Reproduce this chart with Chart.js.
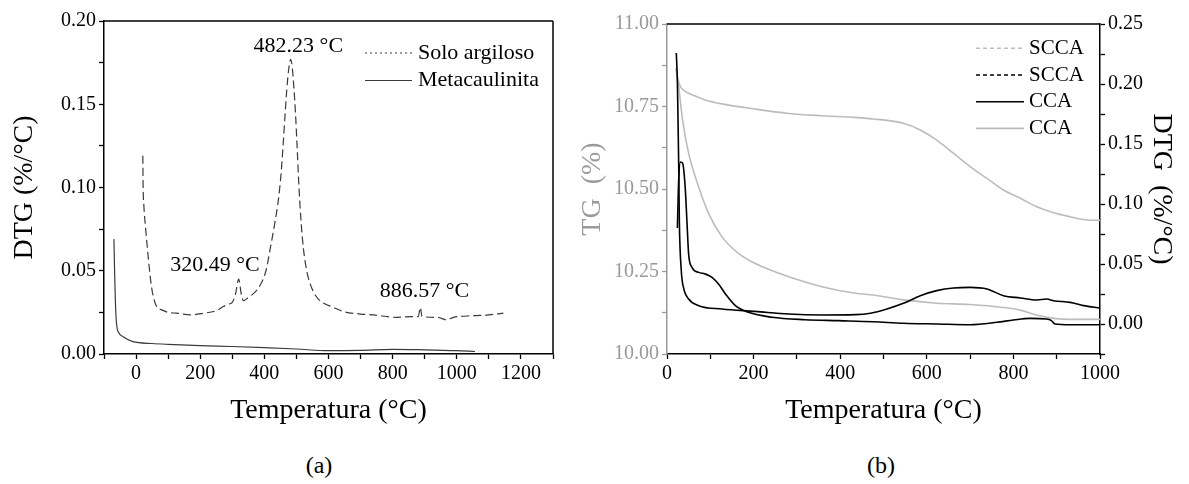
<!DOCTYPE html>
<html>
<head>
<meta charset="utf-8">
<script src="https://cdn.jsdelivr.net/npm/chart.js@4.4.1/dist/chart.umd.min.js"></script>
<style>
  body { margin: 0; background: #fff; }
  #wrap { position: relative; width: 1189px; height: 484px; overflow: hidden; }
  canvas { position: absolute; top: 0; }
  #chartA { left: 0; }
  #chartB { left: 575px; }
  .cap { position: absolute; top: 452px; font: 24px 'Liberation Serif', 'Times New Roman', serif; transform: translateX(-50%); }
</style>
</head>
<body>
<div id="wrap">
  <canvas id="chartA" width="575" height="440"></canvas>
  <canvas id="chartB" width="614" height="440"></canvas>
  <div class="cap" style="left:319px">(a)</div>
  <div class="cap" style="left:881px">(b)</div>
</div>
<script>
// --- (a) DTG: solo argiloso / metacaulinita ---
const soloT = [21, 22, 24, 30, 38, 45, 52, 64, 80, 100, 127, 168, 210, 250, 272, 290, 300, 310, 320, 328,
  335, 350, 370, 386, 405, 418, 432, 444, 452, 459, 465, 470, 476, 482, 487, 492, 497, 502, 508, 515,
  522, 532, 542, 560, 584, 615, 646, 700, 740, 813, 860, 880, 886, 892, 940, 968, 990, 1050, 1100, 1145];
const soloDTG = [0.119, 0.100, 0.090, 0.075, 0.058, 0.045, 0.036, 0.0285, 0.0265, 0.025, 0.0245, 0.0235, 0.0245, 0.026, 0.0285, 0.030, 0.031, 0.036, 0.045, 0.036,
  0.032, 0.034, 0.037, 0.041, 0.050, 0.063, 0.078, 0.093, 0.108, 0.127, 0.145, 0.159, 0.171, 0.177, 0.172, 0.160, 0.145, 0.125, 0.100, 0.078,
  0.063, 0.050, 0.0426, 0.035, 0.0306, 0.028, 0.0255, 0.024, 0.0235, 0.022, 0.0225, 0.0225, 0.028, 0.0225, 0.022, 0.0205, 0.022, 0.023, 0.0235, 0.0245];
const metaT = [-69, -67, -65, -63, -60, -55, -40, -10, 50, 100, 200, 300, 400, 500, 600, 700, 800, 900, 1000, 1057];
const metaDTG = [0.069, 0.050, 0.035, 0.024, 0.0165, 0.013, 0.0104, 0.0074, 0.0063, 0.0058, 0.005, 0.0045, 0.0038, 0.003, 0.002, 0.0022, 0.0028, 0.0025, 0.002, 0.0015];

// --- (b) TG / DTG: SCCA / CCA ---
const tgSccaT = [21, 25, 31, 40, 50, 70, 88, 127, 204, 281, 358, 435, 477, 508, 546, 585, 623, 662, 700, 739, 777, 816, 854, 893, 931, 970, 1000];
const tgScca = [10.866, 10.835, 10.81, 10.798, 10.79, 10.779, 10.77, 10.758, 10.742, 10.729, 10.722, 10.717, 10.712, 10.708, 10.699, 10.679, 10.648, 10.608, 10.568, 10.532, 10.497, 10.472, 10.446, 10.428, 10.416, 10.406, 10.405];
const tgCcaT = [21, 27, 36, 50, 73, 96, 127, 165, 204, 281, 358, 435, 477, 546, 623, 700, 777, 816, 854, 893, 931, 1000];
const tgCca = [10.866, 10.81, 10.709, 10.608, 10.507, 10.426, 10.355, 10.305, 10.274, 10.234, 10.204, 10.184, 10.179, 10.164, 10.154, 10.15, 10.141, 10.133, 10.118, 10.108, 10.105, 10.105];
const dtgSccaT = [21.5, 24, 25.5, 27, 28.5, 33, 38, 50, 73, 127, 204, 281, 358, 435, 470, 508, 546, 585, 623, 662, 700, 739, 777, 816, 854, 877, 893, 931, 962, 1000];
const dtgScca = [0.2258, 0.2014, 0.169, 0.133, 0.086, 0.0444, 0.0305, 0.0208, 0.0153, 0.0125, 0.0105, 0.0083, 0.0075, 0.0078, 0.009, 0.0125, 0.0172, 0.0236, 0.0278, 0.030, 0.0305, 0.0292, 0.0236, 0.0217, 0.020, 0.0208, 0.0194, 0.018, 0.0153, 0.0133];
const dtgCcaT = [24, 27, 31, 36, 42, 46, 50, 58, 73, 88, 104, 119, 135, 158, 188, 242, 319, 396, 477, 546, 623, 700, 762, 800, 838, 877, 888, 896, 931, 1000];
const dtgCca = [0.08, 0.12, 0.135, 0.134, 0.114, 0.086, 0.058, 0.047, 0.043, 0.0417, 0.0389, 0.0333, 0.025, 0.0153, 0.0097, 0.0056, 0.0036, 0.0028, 0.0019, 0.0006, 0.0, -0.0006, 0.0014, 0.0033, 0.0047, 0.0042, 0.0028, 0.0, -0.0006, -0.0006];

// tick labels
const aTempLabels = [0, 200, 400, 600, 800, 1000, 1200];
const aDtgLabels = [0, 0.05, 0.10, 0.15, 0.20];
const bTempLabels = [0, 200, 400, 600, 800, 1000];
const bTgLabels = [10, 10.25, 10.5, 10.75, 11];
const bDtgLabels = [0, 0.05, 0.10, 0.15, 0.20, 0.25];

const SERIF = "'Liberation Serif', 'Times New Roman', serif";
Chart.defaults.font.family = SERIF;
Chart.defaults.color = '#000';

const pts = (xs, ys) => xs.map((x, i) => ({ x, y: ys[i] }));
const labelIf = (labels, digits) => v => {
  const hit = labels.find(l => Math.abs(l - v) < 1e-9);
  return hit === undefined ? '' : hit.toFixed(digits);
};

// box edges not covered by the axes
const framePlugin = {
  id: 'frame',
  afterDraw(chart, args, opts) {
    const { ctx, chartArea: a } = chart;
    ctx.save();
    ctx.strokeStyle = '#000';
    ctx.lineWidth = 1.5;
    ctx.beginPath();
    ctx.moveTo(a.left, a.top); ctx.lineTo(a.right, a.top);
    if (opts.right) { ctx.moveTo(a.right, a.top); ctx.lineTo(a.right, a.bottom); }
    ctx.stroke();
    ctx.restore();
  }
};

// legend inside the plot, top right
const lineLegend = {
  id: 'lineLegend',
  afterDraw(chart, args, opts) {
    const { ctx, chartArea: a } = chart;
    ctx.save();
    ctx.font = opts.font;
    ctx.textBaseline = 'middle';
    opts.items.forEach((it, i) => {
      const ds = chart.data.datasets[it.ds];
      const y = a.top + opts.top + i * opts.gap;
      const x0 = a.right - opts.right;
      ctx.strokeStyle = ds.borderColor;
      ctx.lineWidth = ds.borderWidth;
      ctx.setLineDash(it.dash);
      ctx.beginPath(); ctx.moveTo(x0, y); ctx.lineTo(x0 + opts.len, y); ctx.stroke();
      ctx.setLineDash([]);
      ctx.fillStyle = '#000';
      ctx.fillText(ds.label, x0 + opts.len + opts.space, y);
    });
    ctx.restore();
  }
};

const peakLabels = {
  id: 'peakLabels',
  afterDatasetsDraw(chart, args, opts) {
    const { ctx, scales: { x, y } } = chart;
    ctx.save();
    ctx.font = opts.font;
    ctx.fillStyle = '#000';
    ctx.textAlign = 'center';
    ctx.textBaseline = 'middle';
    opts.items.forEach(p => ctx.fillText(p.text, x.getPixelForValue(p.x), y.getPixelForValue(p.y)));
    ctx.restore();
  }
};

const tickGrid = color => ({ drawOnChartArea: false, drawTicks: true, tickLength: 5, tickColor: color, tickWidth: 1.3 });
const titleFont = { size: 28, family: SERIF, lineHeight: 1.2 };

// --- Chart (a) ---
new Chart(document.getElementById('chartA'), {
  type: 'line',
  data: {
    datasets: [
      { label: 'Solo argiloso', data: pts(soloT, soloDTG), borderColor: '#3a3a3a', borderWidth: 1.2,
        borderDash: [8, 4], pointRadius: 0, cubicInterpolationMode: 'monotone' },
      { label: 'Metacaulinita', data: pts(metaT, metaDTG), borderColor: '#3a3a3a', borderWidth: 1.2,
        pointRadius: 0, cubicInterpolationMode: 'monotone' }
    ]
  },
  options: {
    responsive: false,
    animation: false,
    layout: { padding: { left: 0, right: 22, top: 21, bottom: 0 } },
    scales: {
      x: {
        type: 'linear', min: -100, max: 1300,
        ticks: { stepSize: 100, autoSkip: false, maxRotation: 0, font: { size: 20 }, callback: labelIf(aTempLabels, 0) },
        grid: tickGrid('#000'),
        border: { display: true, color: '#000', width: 1.5 },
        title: { display: true, text: 'Temperatura (°C)', font: titleFont, padding: { bottom: 13 } },
        afterFit: s => { s.height = 86; }
      },
      y: {
        min: 0, max: 0.2,
        ticks: { stepSize: 0.025, autoSkip: false, font: { size: 20 }, callback: labelIf(aDtgLabels, 2) },
        grid: tickGrid('#000'),
        border: { display: true, color: '#000', width: 1.5 },
        title: { display: true, text: 'DTG (%/°C)', font: titleFont, padding: { top: 8 } },
        afterFit: s => { s.width = 104; }
      }
    },
    plugins: {
      legend: { display: false },
      tooltip: { enabled: false },
      frame: { right: true },
      lineLegend: {
        font: '22px ' + SERIF, top: 32, gap: 27.5, right: 188, len: 47, space: 6,
        items: [{ ds: 0, dash: [2, 3] }, { ds: 1, dash: [] }]
      },
      peakLabels: {
        font: '22px ' + SERIF,
        items: [
          { text: '482.23 °C', x: 506, y: 0.185 },
          { text: '320.49 °C', x: 246, y: 0.0532 },
          { text: '886.57 °C', x: 899, y: 0.0378 }
        ]
      }
    }
  },
  plugins: [framePlugin, lineLegend, peakLabels]
});

// --- Chart (b) ---
const GRAY = '#bcbcbc';
new Chart(document.getElementById('chartB'), {
  type: 'line',
  data: {
    datasets: [
      { label: 'SCCA', data: pts(dtgSccaT, dtgScca), yAxisID: 'y2', borderColor: '#000', borderWidth: 1.6,
        pointRadius: 0, cubicInterpolationMode: 'monotone' },
      { label: 'CCA', data: pts(dtgCcaT, dtgCca), yAxisID: 'y2', borderColor: '#000', borderWidth: 1.6,
        pointRadius: 0, cubicInterpolationMode: 'monotone' },
      { label: 'SCCA', data: pts(tgSccaT, tgScca), yAxisID: 'y', borderColor: GRAY, borderWidth: 1.6,
        pointRadius: 0, cubicInterpolationMode: 'monotone' },
      { label: 'CCA', data: pts(tgCcaT, tgCca), yAxisID: 'y', borderColor: GRAY, borderWidth: 1.6,
        pointRadius: 0, cubicInterpolationMode: 'monotone' }
    ]
  },
  options: {
    responsive: false,
    animation: false,
    layout: { padding: { left: 0, right: 0, top: 24, bottom: 0 } },
    scales: {
      x: {
        type: 'linear', min: 0, max: 1000,
        ticks: { stepSize: 100, autoSkip: false, maxRotation: 0, font: { size: 20 }, callback: labelIf(bTempLabels, 0) },
        grid: tickGrid('#000'),
        border: { display: true, color: '#000', width: 1.5 },
        title: { display: true, text: 'Temperatura (°C)', font: titleFont, padding: { bottom: 13 } },
        afterFit: s => { s.height = 86; }
      },
      y: {
        position: 'left', min: 10, max: 11,
        ticks: { stepSize: 0.125, autoSkip: false, color: '#999', font: { size: 20 }, callback: labelIf(bTgLabels, 2) },
        grid: tickGrid('#999'),
        border: { display: true, color: '#999', width: 1.5 },
        title: { display: true, text: 'TG  (%)', color: '#999', font: titleFont, padding: { top: 1 } },
        afterFit: s => { s.width = 92; }
      },
      y2: {
        position: 'right', min: -0.025, max: 0.25,
        ticks: { stepSize: 0.025, autoSkip: false, font: { size: 20 }, callback: labelIf(bDtgLabels, 2) },
        grid: tickGrid('#000'),
        border: { display: true, color: '#000', width: 1.5 },
        title: { display: true, text: 'DTG  (%/°C)', font: titleFont, padding: { top: 11 } },
        afterFit: s => { s.width = 89; }
      }
    },
    plugins: {
      legend: { display: false },
      tooltip: { enabled: false },
      frame: { right: false },
      lineLegend: {
        font: '21px ' + SERIF, top: 24.3, gap: 26.7, right: 124, len: 48, space: 5,
        items: [{ ds: 2, dash: [4, 3] }, { ds: 0, dash: [4, 3] }, { ds: 1, dash: [] }, { ds: 3, dash: [] }]
      }
    }
  },
  plugins: [framePlugin, lineLegend]
});
</script>
</body>
</html>
